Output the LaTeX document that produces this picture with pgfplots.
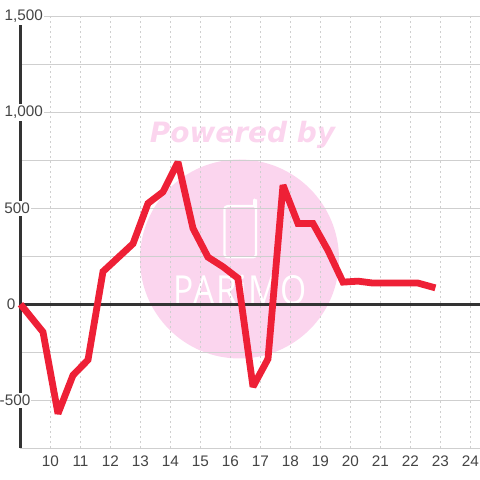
\documentclass[border=0pt]{standalone}
\usepackage{fontspec}
\setmainfont{Liberation Sans}
\newfontfamily\wmfont{DejaVu Sans}
\newfontfamily\logofont{Open Sans}
\usepackage{pgfplots}
\pgfplotsset{compat=1.18}
\definecolor{gridc}{HTML}{CFCFCF}
\definecolor{axisc}{HTML}{333333}
\definecolor{labelc}{HTML}{444444}
\definecolor{linec}{HTML}{EE2036}
\definecolor{wm}{HTML}{FBD5EE}
\newcommand{\ylab}[3]{\node[anchor=east, fill=white, inner xsep=1pt, inner ysep=2pt, text=labelc, font=\fontsize{15.3}{15.3}\selectfont]
  at ([xshift=#2pt]axis cs:9,#1) {#3};}
\begin{document}
\begin{tikzpicture}[x=1pt,y=1pt]
\useasboundingbox (-20.5,-31.8) rectangle (459.5,448.2);
% watermark, under the axis
\fill[wm] (219,189.2) circle (99.5);
\node[text=wm, font=\wmfont\fontsize{28}{28}\selectfont\bfseries\itshape] at (222,313.3) {Powered by};
\draw[white, line width=2.2pt, rounded corners=3pt] (233,242.1) -- (204,242.1) -- (204,190.8) -- (235.5,190.8) -- (235.5,248.8);
\draw[white, line width=2.8pt, line cap=round] (233.8,248.3) -- (233.8,241.8);
\node[text=white, font=\logofont\fontsize{40}{40}\selectfont, inner sep=0pt, xscale=0.84] at (219.5,158.3) {\addfontfeature{LetterSpace=5}PARiMO};
\begin{axis}[
    at={(0,0)}, anchor=south west,
    scale only axis,
    width=459.5pt, height=432pt,
    xmin=9, xmax=24.3167,
    ymin=-750, ymax=1500,
    clip=false,
    axis line style={draw=none},
    tick style={draw=none},
    xtick={10,...,24},
    ytick={-750,-500,-250,0,250,500,750,1000,1250,1500},
    yticklabels={},
    /pgf/number format/assume math mode=true,
    xticklabel style={font=\fontsize{15.3}{15.3}\selectfont, text=labelc, anchor=center, yshift=-13pt},
    xmajorgrids=true, ymajorgrids=true,
    x grid style={gridc, line width=0.9pt, dash pattern=on 2pt off 3pt},
    y grid style={gridc, line width=1pt},
]
\draw[axisc, line width=3pt] (axis cs:9,-750) -- (axis cs:9,1500);
\draw[axisc, line width=3pt] (axis cs:9,0) -- (axis cs:24.3167,0);
\ylab{1500}{23.5}{1,500}
\ylab{1000}{23.5}{1,000}
\ylab{500}{10.5}{500}
\ylab{0}{-4}{0}
\ylab{-500}{11}{-500}
\addplot[linec, line width=6.8pt, line join=miter, miter limit=2] coordinates {
 (9,0) (9.75,-145) (10.25,-570) (10.75,-370) (11.25,-290) (11.75,170)
 (12.75,315) (13.25,525) (13.75,585) (14.25,740) (14.75,395) (15.25,245)
 (15.75,195) (16.25,135) (16.75,-430) (17.25,-285) (17.75,620) (18.25,420)
 (18.75,420) (19.25,280) (19.75,115) (20.25,120) (20.75,110) (21.25,110)
 (21.75,110) (22.25,110) (22.83,85)};
\end{axis}
\end{tikzpicture}
\end{document}
